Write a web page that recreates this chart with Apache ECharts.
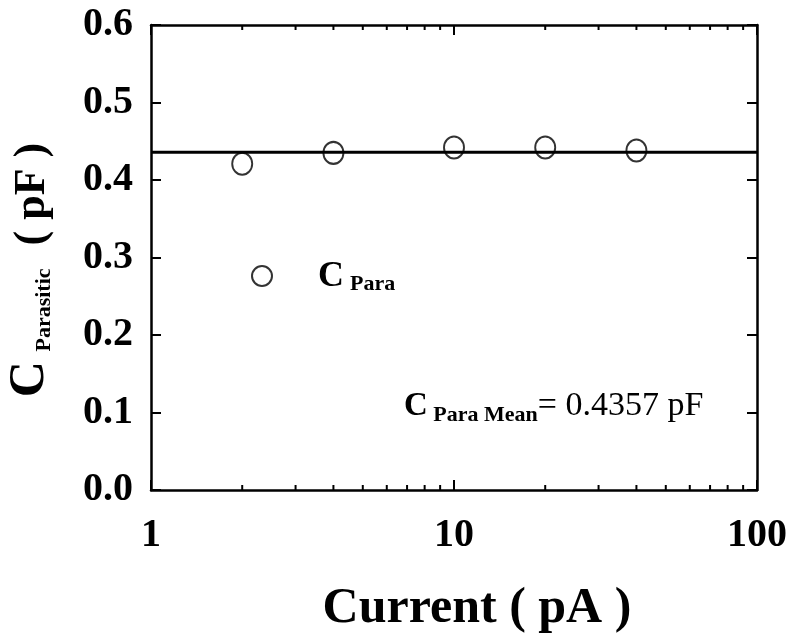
<!DOCTYPE html>
<html>
<head>
<meta charset="utf-8">
<script src="https://cdn.jsdelivr.net/npm/echarts@6/dist/echarts.min.js"></script>
<style>
  html, body { margin: 0; padding: 0; background: #fff; }
  #main { width: 791px; height: 634px; }
</style>
</head>
<body>
<div id="main"></div>
<script>
// measured points
const currents = [2, 4, 10, 20, 40];
const cPara = [0.421, 0.435, 0.442, 0.442, 0.438];
const cMean = 0.4357;
const meanSpan = [1, 100];
// log axis minor ticks
const minorTicks = [2, 3, 4, 5, 6, 7, 8, 9, 20, 30, 40, 50, 60, 70, 80, 90];

const FONT = '"Liberation Serif", "Times New Roman", serif';

var chart = echarts.init(document.getElementById('main'));

var axisLine = { show: true, onZero: false, lineStyle: { color: '#000', width: 2.5 } };
var axisTick = { inside: true, length: 10, lineStyle: { color: '#000', width: 2 } };

var option = {
    animation: false,
    backgroundColor: '#fff',
    grid: { left: 151, right: 34, top: 25, bottom: 144, outerBoundsMode: 'none' },
    xAxis: [
        {
            type: 'log', logBase: 10, min: 1, max: 100,
            position: 'bottom',
            axisLine: axisLine,
            axisTick: axisTick,
            axisLabel: { margin: 26, color: '#000', fontFamily: FONT, fontWeight: 'bold', fontSize: 40 },
            splitLine: { show: false },
            name: 'Current ( pA )',
            nameLocation: 'middle',
            nameGap: 94,
            nameTextStyle: { color: '#000', fontFamily: FONT, fontWeight: 'bold', fontSize: 50, padding: [0, 0, 0, 46] }
        },
        {
            type: 'log', logBase: 10, min: 1, max: 100,
            position: 'top',
            axisLine: axisLine,
            axisTick: axisTick,
            axisLabel: { show: false },
            splitLine: { show: false }
        }
    ],
    yAxis: [
        {
            type: 'value', min: 0, max: 0.6, interval: 0.1,
            position: 'left',
            axisLine: axisLine,
            axisTick: axisTick,
            axisLabel: {
                margin: 18, color: '#000', fontFamily: FONT, fontWeight: 'bold', fontSize: 40,
                formatter: function (v) { return v.toFixed(1); }
            },
            splitLine: { show: false }
        },
        {
            type: 'value', min: 0, max: 0.6, interval: 0.1,
            position: 'right',
            axisLine: axisLine,
            axisTick: axisTick,
            axisLabel: { show: false },
            splitLine: { show: false }
        }
    ],
    legend: {
        data: ['C Para'],
        left: 251, top: 259,
        padding: 0,
        itemWidth: 20, itemHeight: 22,
        itemStyle: { color: '#fff', borderColor: '#000', borderWidth: 2 },
        formatter: function () { return '{c|C}{s|Para}'; },
        textStyle: {
            rich: {
                c: { fontFamily: FONT, fontWeight: 'bold', fontSize: 36, color: '#000', padding: [0, 0, 0, 41], lineHeight: 38, verticalAlign: 'bottom' },
                s: { fontFamily: FONT, fontWeight: 'bold', fontSize: 22, color: '#000', padding: [0, 0, 0, 6], lineHeight: 22, verticalAlign: 'bottom' }
            }
        }
    },
    graphic: [
        {
            type: 'text',
            x: 30, y: 270,
            rotation: Math.PI / 2,
            style: {
                text: '{c|C}{s| Parasitic}{p| ( pF )}',
                align: 'center', verticalAlign: 'middle',
                rich: {
                    c: { fontFamily: FONT, fontWeight: 'bold', fontSize: 50, fill: '#000', lineHeight: 50, verticalAlign: 'bottom' },
                    s: { fontFamily: FONT, fontWeight: 'bold', fontSize: 22, fill: '#000', lineHeight: 26, verticalAlign: 'bottom', padding: [0, 12, 0, 4] },
                    p: { fontFamily: FONT, fontWeight: 'bold', fontSize: 44, fill: '#000', lineHeight: 50, verticalAlign: 'bottom' }
                }
            }
        },
        {
            type: 'text',
            x: 404, y: 406,
            style: {
                text: '{c|C}{s| Para Mean}{n|= 0.4357 pF}',
                align: 'left', verticalAlign: 'middle',
                rich: {
                    c: { fontFamily: FONT, fontWeight: 'bold', fontSize: 33, fill: '#000', lineHeight: 40, verticalAlign: 'middle' },
                    s: { fontFamily: FONT, fontWeight: 'bold', fontSize: 22, fill: '#000', lineHeight: 18, verticalAlign: 'bottom' },
                    n: { fontFamily: FONT, fontSize: 34, fill: '#000', lineHeight: 40, verticalAlign: 'middle' }
                }
            }
        }
    ],
    series: [
        {
            name: 'mean',
            type: 'line',
            symbol: 'none',
            silent: true,
            lineStyle: { color: '#000', width: 3 },
            data: meanSpan.map(function (x) { return [x, cMean]; }),
            z: 2
        },
        {
            name: 'C Para',
            type: 'scatter',
            symbol: 'circle',
            symbolSize: [20, 22],
            itemStyle: { color: 'rgba(255,255,255,0)', borderColor: '#000', borderWidth: 2 },
            data: currents.map(function (c, i) { return [c, cPara[i]]; }),
            z: 3
        },
        {
            name: 'minor',
            type: 'custom',
            silent: true,
            data: minorTicks.map(function (v) { return [v]; }),
            renderItem: function (params, api) {
                var v = api.value(0);
                var b = api.coord([v, 0]);
                var t = api.coord([v, 0.6]);
                return {
                    type: 'group',
                    children: [
                        { type: 'line', shape: { x1: b[0], y1: b[1], x2: b[0], y2: b[1] - 5 }, style: { stroke: '#000', lineWidth: 2 } },
                        { type: 'line', shape: { x1: t[0], y1: t[1], x2: t[0], y2: t[1] + 5 }, style: { stroke: '#000', lineWidth: 2 } }
                    ]
                };
            }
        }
    ]
};

chart.setOption(option);
</script>
</body>
</html>
